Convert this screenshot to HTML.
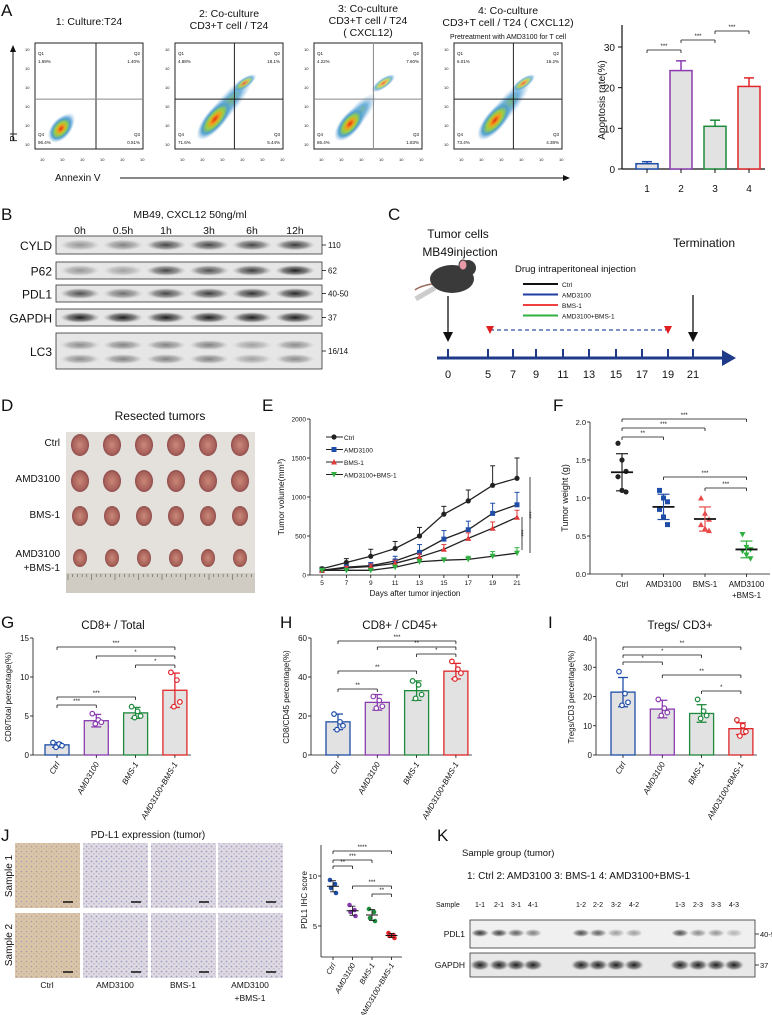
<!DOCTYPE html>
<html><head><meta charset="utf-8"><style>
body{margin:0;background:#fff}
svg{display:block;font-family:"Liberation Sans",sans-serif}
</style></head><body>
<svg id="s" width="772" height="1015" viewBox="0 0 772 1015" xmlns="http://www.w3.org/2000/svg">
<defs>
<radialGradient id="dens"><stop offset="0" stop-color="#e03010"/><stop offset="0.25" stop-color="#f0a020"/><stop offset="0.45" stop-color="#9bcf40"/><stop offset="0.7" stop-color="#50a0d0"/><stop offset="1" stop-color="#8ab8e0" stop-opacity="0"/></radialGradient>
<radialGradient id="dens2"><stop offset="0" stop-color="#60b040"/><stop offset="0.5" stop-color="#60a8d8"/><stop offset="1" stop-color="#a0c8e8" stop-opacity="0"/></radialGradient>
<radialGradient id="band"><stop offset="0" stop-color="#1a1a1a"/><stop offset="0.6" stop-color="#555" stop-opacity="0.7"/><stop offset="1" stop-color="#999" stop-opacity="0"/></radialGradient>
<radialGradient id="tum"><stop offset="0" stop-color="#c98878"/><stop offset="0.8" stop-color="#a8605a"/><stop offset="1" stop-color="#8a4a48"/></radialGradient>
<pattern id="ihcB" width="5" height="5" patternUnits="userSpaceOnUse"><rect width="5" height="5" fill="#e4e0ea"/><circle cx="1.5" cy="1.5" r="0.9" fill="#7a7ab8"/><circle cx="4" cy="3.8" r="0.7" fill="#9090c8"/></pattern>
<pattern id="ihcT" width="5" height="5" patternUnits="userSpaceOnUse"><rect width="5" height="5" fill="#dcc8ac"/><circle cx="1.5" cy="1.5" r="0.8" fill="#8a80b0"/><circle cx="4" cy="3.8" r="0.6" fill="#a090b0"/></pattern>
</defs>
<g id="root"></g>
</svg>
<script>
// ---- data ----
const flowTitles=[["1: Culture:T24"],["2: Co-culture","CD3+T cell / T24"],["3: Co-culture","CD3+T cell / T24","( CXCL12)"],["4: Co-culture","CD3+T cell / T24 ( CXCL12)"]];
const flowQ1=["1.69%","4.88%","4.22%","6.01%"];
const flowQ2=["1.40%","18.1%","7.60%","16.2%"];
const flowQ3=["0.51%","5.44%","1.83%","4.38%"];
const flowQ4=["96.4%","71.6%","86.4%","73.4%"];
const apopCats=["1","2","3","4"];
const apopVals=[1.3,24.2,10.5,20.3];
const apopErr=[0.5,2.4,1.5,2.1];
const groupColors=["#1f4ea8","#8a3cb0","#1e8a3c","#e0262a"];
const timeLabels=["0h","0.5h","1h","3h","6h","12h"];
const blotRows=["CYLD","P62","PDL1","GAPDH","LC3"];
const blotKDa=["110","62","40-50","37","16/14"];
const blotInt=[[0.4,0.5,0.8,0.8,0.8,0.85],[0.4,0.35,0.8,0.75,0.85,1],[0.75,0.6,0.8,0.85,0.9,0.95],[1,1,1,1,1,1],[0.45,0.5,0.5,0.5,0.35,0.45]];
const days=[5,7,9,11,13,15,17,19,21];
const volCtrl=[80,160,240,340,500,780,950,1150,1240];
const volCtrlErr=[20,50,90,90,110,100,140,250,260];
const volAMD=[60,100,120,180,290,460,580,790,900];
const volAMDErr=[20,30,40,60,100,110,110,130,160];
const volBMS=[60,90,110,150,230,330,470,600,740];
const volBMSErr=[10,20,30,40,40,60,70,80,90];
const volCombo=[60,60,60,100,170,190,200,240,280];
const volComboErr=[10,15,20,25,30,30,40,60,70];
const wCtrl=[1.72,1.5,1.35,1.28,1.1,1.08];
const wAMD=[1.1,1.0,0.95,0.85,0.75,0.65];
const wBMS=[1.0,0.8,0.72,0.65,0.6,0.57];
const wCombo=[0.52,0.35,0.32,0.3,0.25,0.2];
const grpLabels=["Ctrl","AMD3100","BMS-1","AMD3100+BMS-1"];
const gVals=[1.3,4.4,5.4,8.3];const gSd=[0.3,0.8,0.7,2.2];
const gPts=[[1.6,1.4,1.2,1.0],[5.3,4.5,4.2,4.0],[6.2,5.6,5.0,4.8],[10.6,9.6,6.8,6.2]];
const hVals=[17,27,33,43];const hSd=[4,4,5,4];
const hPts=[[21,17,15,13],[30,28,25,24],[38,36,31,29],[48,44,42,39]];
const iVals=[21.5,15.7,14.2,9];const iSd=[5,3,3,2];
const iPts=[[28.5,21,18,17],[19,16,14.5,13.5],[19,15,13.5,12.5],[12,10,8,6.5]];
const jPts=[[9.6,9.2,8.8,8.3],[7.1,6.6,6.4,6.0],[6.7,6.4,5.8,5.5],[4.3,4.1,4.0,3.8]];
const kSamples=["1-1","2-1","3-1","4-1","1-2","2-2","3-2","4-2","1-3","2-3","3-3","4-3"];
const kPDL1=[0.9,0.85,0.7,0.55,0.8,0.7,0.4,0.4,0.8,0.5,0.45,0.3];

// ---- helpers ----
const NS="http://www.w3.org/2000/svg";const root=document.getElementById('root');
function E(tag,at,parent,txt){const e=document.createElementNS(NS,tag);for(const k in at)e.setAttribute(k,at[k]);if(txt!==undefined)e.textContent=txt;(parent||root).appendChild(e);return e;}
function T(x,y,s,size,name,opt){opt=opt||{};const e=E('text',{x:x,y:y,'font-size':size,fill:opt.fill||'#111','text-anchor':opt.anchor||'start'},opt.parent,s);
if(opt.rot)e.setAttribute('transform',`rotate(${opt.rot} ${x} ${y})`);if(opt.it)e.setAttribute('font-style','italic');

return e;}
function L(x1,y1,x2,y2,c,w,p){return E('line',{x1,y1,x2,y2,stroke:c||'#111','stroke-width':w||1},p);}
function sig(x1,x2,y,s,p){L(x1,y,x2,y,'#111',0.8,p);L(x1,y,x1,y+3,'#111',0.8,p);L(x2,y,x2,y+3,'#111',0.8,p);T((x1+x2)/2,y-2,s,6,'significance-mark',{anchor:'middle',parent:p});}
function G(name){const g=E('g',{});return g;}
function panel(l,x,y){T(x,y,l,17,'panel-label-'+l.toLowerCase());}

// ---- Panel A ----
panel('A',1,16);
const fx=[35,175,314,454];
flowTitles.forEach((t,i)=>{const g=G('flow-plot-'+(i+1));const x=fx[i],y=43,w=108,h=106;
 const tyBase=[25,17,12,14][i];
 t.forEach((ln,j)=>T(x+w/2,tyBase+j*12,ln,10.5,'flow-title',{anchor:'middle',parent:g}));
 if(i==3)T(x+w/2,39,'Pretreatment with AMD3100  for T cell',7,'flow-subtitle',{anchor:'middle',parent:g});
 E('rect',{x,y,width:w,height:h,fill:'#fff',stroke:'#222','stroke-width':1},g);
 const vx=i==0?x+61:x+w*0.55;const hy=y+h*0.53;
 const sp=[0.2,1,0.6,0.9][i];
 const bx=x+[24,30,30,32][i],by=y+88;
 // diagonal spread
 const ex=bx+22*sp,ey=by-26*sp;
 E('ellipse',{cx:ex,cy:ey,rx:10+30*sp,ry:8+2*sp,fill:'url(#dens2)',transform:`rotate(-50 ${ex} ${ey})`,opacity:0.9},g);
 E('ellipse',{cx:bx+10*sp,cy:by-12*sp,rx:14+12*sp,ry:10,fill:'url(#dens)',transform:`rotate(-50 ${bx+10*sp} ${by-12*sp})`},g);
 if(sp>0.5)E('ellipse',{cx:vx+10,cy:hy-16,rx:14,ry:5,fill:'url(#dens)',transform:`rotate(-35 ${vx+10} ${hy-16})`,opacity:0.75},g);
 L(vx,y,vx,y+h,i==2?'#888':'#222',1,g);L(x,hy,x+w,hy,i%2==0?'#888':'#222',1,g);
 T(x+3,y+12,'Q1',4.5,'q-label',{parent:g});T(x+3,y+20,flowQ1[i],4.5,'q1-value',{parent:g});
 T(x+w-3,y+12,'Q2',4.5,'q-label',{parent:g,anchor:'end'});T(x+w-3,y+20,flowQ2[i],4.5,'q2-value',{parent:g,anchor:'end'});
 T(x+3,y+93,'Q4',4.5,'q-label',{parent:g});T(x+3,y+101,flowQ4[i],4.5,'q4-value',{parent:g});
 T(x+w-3,y+93,'Q3',4.5,'q-label',{parent:g,anchor:'end'});T(x+w-3,y+101,flowQ3[i],4.5,'q3-value',{parent:g,anchor:'end'});
 for(let k=0;k<6;k++){T(x+5+k*20,y+h+12,'10',4,'x-tick',{parent:g});T(x-10,y+8+k*19,'10',4,'y-tick',{parent:g});}
});
T(55,181,'Annexin V',10,'x-axis-title-annexin');L(120,178,566,178,'#111',1);E('path',{d:'M570 178 L563 175 L563 181Z',fill:'#111'});
T(17,142,'PI',10,'y-axis-title-pi',{rot:-90});L(13,140,13,50,'#111',1);E('path',{d:'M13 45 L10 52 L16 52Z',fill:'#111'});
// apoptosis bar chart
{const g=G('apoptosis-bar-chart');const ax=622,y0=169,y30=47;const ys=v=>y0-(v/30)*(y0-y30);const xs=i=>647+i*34;
 L(ax,y0,ax,25,'#111',1.2,g);L(ax,y0,765,y0,'#111',1.2,g);
 [0,10,20,30].forEach(v=>{L(ax-4,ys(v),ax,ys(v),'#111',1,g);T(ax-7,ys(v)+4,String(v),10,'y-tick',{anchor:'end',parent:g});});
 T(605,100,'Apoptosis rate(%)',10,'y-axis-title',{anchor:'middle',rot:-90,parent:g});
 apopCats.forEach((c,i)=>{const x=xs(i);const b=E('rect',{x:x-11,y:ys(apopVals[i]),width:22,height:y0-ys(apopVals[i]),fill:'#e2e2e2',stroke:groupColors[i],'stroke-width':1.5},g);
  
  
  const t=ys(apopVals[i]+apopErr[i]);L(x,ys(apopVals[i]),x,t,groupColors[i],1.5,g);L(x-5,t,x+5,t,groupColors[i],1.5,g);
  L(x,y0,x,y0+4,'#111',1,g);T(x,192,c,10,'x-tick',{anchor:'middle',parent:g});});
 sig(xs(0),xs(1),50,'***',g);sig(xs(1),xs(2),40,'***',g);sig(xs(2),xs(3),31,'***',g);}

// ---- Panel B ----
panel('B',1,220);
T(190,218,'MB49, CXCL12  50ng/ml',10.5,'blot-title',{anchor:'middle'});
timeLabels.forEach((t,i)=>T(80+i*43,234,t,10.5,'time-label',{anchor:'middle'}));
const rowY=[236,262,285,309,333],rowH=[18,17,17,17,36];
blotRows.forEach((r,j)=>{const g=G('blot-row-'+r.toLowerCase());
 E('rect',{x:56,y:rowY[j],width:266,height:rowH[j],fill:'#e6e6e6',stroke:'#333','stroke-width':0.8},g);
 timeLabels.forEach((t,i)=>{const cx=80+i*43;const a=blotInt[j][i];
  if(j==4){E('ellipse',{cx,cy:rowY[j]+12,rx:20,ry:5,fill:'url(#band)',opacity:a},g);E('ellipse',{cx,cy:rowY[j]+26,rx:20,ry:5,fill:'url(#band)',opacity:a},g);}
  else E('ellipse',{cx,cy:rowY[j]+rowH[j]/2,rx:20,ry:5.5,fill:'url(#band)',opacity:a},g);});
 T(52,rowY[j]+rowH[j]/2+5,r,12,'blot-label',{anchor:'end',parent:g});
 L(322,rowY[j]+rowH[j]/2,326,rowY[j]+rowH[j]/2,'#111',0.8,g);
 T(328,rowY[j]+rowH[j]/2+3,blotKDa[j],8,'kda-label',{parent:g});});

// ---- Panel C ----
panel('C',388,220);
T(458,238,'Tumor cells',12,'label-tumor-cells',{anchor:'middle'});T(460,256,'MB49injection',12,'label-injection',{anchor:'middle'});
T(704,247,'Termination',12,'label-termination',{anchor:'middle'});
{const g=G('mouse-icon');E('ellipse',{cx:452,cy:279,rx:22,ry:14,fill:'#3a3a3a'},g);E('circle',{cx:468,cy:268,r:8,fill:'#3a3a3a'},g);
 E('ellipse',{cx:463,cy:265,rx:4,ry:5,fill:'#e89aa8',stroke:'#3a3a3a'},g);E('path',{d:'M432 284 Q420 286 415 290',stroke:'#9a6a5a',fill:'none','stroke-width':1.5},g);
 E('rect',{x:414,y:291,width:22,height:5,fill:'#ccc',transform:'rotate(-30 425 293)'},g);}
T(515,272,'Drug intraperitoneal injection',9.5,'label-drug-injection');
[['Ctrl','#111'],['AMD3100','#1f3ea0'],['BMS-1','#f04040'],['AMD3100+BMS-1','#30b040']].forEach((d,i)=>{const y=284+i*10.5;L(523,y,558,y,d[1],2);T(562,y+3,d[0],6.5,'legend-'+d[0].toLowerCase());});
const tlDays=[0,5,7,9,11,13,15,17,19,21];const tlX=[448,488,513,536,563,589,616,642,668,693];
{const g=G('timeline');L(437,358,725,358,'#1f3a88',3,g);E('path',{d:'M736 358 L722 350 L722 366Z',fill:'#1f3a88'},g);
 tlDays.forEach((d,i)=>{L(tlX[i],358,tlX[i],349,'#1f3a88',2,g);T(tlX[i],378,String(d),11,'timeline-tick',{anchor:'middle',parent:g});});
 E('line',{x1:490,y1:330,x2:666,y2:330,stroke:'#3050a8','stroke-width':1.2,'stroke-dasharray':'4,3'},g);
 E('path',{d:'M486 326 L494 326 L490 334Z',fill:'#e02020'},g);E('path',{d:'M664 326 L672 326 L668 334Z',fill:'#e02020'},g);
 [[448,296],[693,295]].forEach(a=>{L(a[0],a[1],a[0],335,'#111',1.3,g);E('path',{d:`M${a[0]-5} 332 L${a[0]+5} 332 L${a[0]} 342Z`,fill:'#111'},g);});}

// ---- Panel D ----
panel('D',1,411);
T(160,420,'Resected tumors',12,'photo-title',{anchor:'middle'});
{const g=G('tumor-photo');E('rect',{x:66,y:432,width:189,height:161,fill:'#e4e0dc'},g);E('rect',{x:66,y:573,width:189,height:20,fill:'#d0ccc4'},g);
 for(let k=0;k<40;k++)L(68+k*4.7,574,68+k*4.7,k%5==0?580:577,'#444',0.5,g);
 const ry=[445,481,516,558],sz=[10,10,9,8];ry.forEach((y,r)=>{for(let c=0;c<6;c++)E('ellipse',{cx:80+c*32,cy:y,rx:sz[r]-1,ry:sz[r]+1,fill:'url(#tum)'},g);});}
[['Ctrl',446],['AMD3100',482],['BMS-1',518],['AMD3100',557],['+BMS-1',571]].forEach(d=>T(60,d[1],d[0],10,'row-label',{anchor:'end'}));

// ---- Panel E ----
panel('E',262,411);
{const g=G('tumor-volume-chart');const ax=310,y0=575,yT=419;const ys=v=>y0-v/2000*(y0-yT);const xs=d=>322+(d-5)/16*195;
 L(ax,y0,ax,yT,'#111',0.8,g);L(ax,y0,520,y0,'#111',0.8,g);
 [0,500,1000,1500,2000].forEach(v=>{L(ax-3,ys(v),ax,ys(v),'#111',0.8,g);T(ax-4,ys(v)+2.5,String(v),6.5,'y-tick',{anchor:'end',parent:g});});
 days.forEach(d=>{L(xs(d),y0,xs(d),y0+3,'#111',0.8,g);T(xs(d),585,String(d),6.5,'x-tick',{anchor:'middle',parent:g});});
 T(415,596,'Days after tumor injection',8,'x-axis-title',{anchor:'middle',parent:g});
 T(284,497,'Tumor volume(mm³)',8.5,'y-axis-title',{anchor:'middle',rot:-90,parent:g});
 const ser=[['ctrl',volCtrl,volCtrlErr,'#222','c'],['amd3100',volAMD,volAMDErr,'#1f4ea8','s'],['bms1',volBMS,volBMSErr,'#e03a3a','t'],['combo',volCombo,volComboErr,'#30b040','v']];
 function mk(x,y,c,t,p){if(t=='c')E('circle',{cx:x,cy:y,r:2.6,fill:c},p);else if(t=='s')E('rect',{x:x-2.5,y:y-2.5,width:5,height:5,fill:c},p);else if(t=='t')E('path',{d:`M${x-3} ${y+2.5}L${x+3} ${y+2.5}L${x} ${y-3}Z`,fill:c},p);else E('path',{d:`M${x-3} ${y-2.5}L${x+3} ${y-2.5}L${x} ${y+3}Z`,fill:c},p);}
 ser.forEach(s=>{const sg=E('g',{},g);
  E('polyline',{points:days.map((d,i)=>xs(d)+','+ys(s[1][i])).join(' '),fill:'none',stroke:'#222','stroke-width':1.3},sg);
  days.forEach((d,i)=>{const t=ys(s[1][i]+s[2][i]);L(xs(d),ys(s[1][i]),xs(d),t,s[3],1,sg);L(xs(d)-2.5,t,xs(d)+2.5,t,s[3],1,sg);mk(xs(d),ys(s[1][i]),s[3],s[4],sg);});});
 ser.forEach((s,i)=>{const y=437+i*12.5;L(326,y,343,y,'#222',1,g);mk(334,y,s[3],s[4],g);T(344,y+3,['Ctrl','AMD3100','BMS-1','AMD3100+BMS-1'][i],6.5,'legend-entry',{parent:g});});
 L(522,517,522,550,'#111',0.8,g);T(519,533,'***',6,'sig',{anchor:'middle',rot:90,parent:g});
 L(530,477,530,553,'#111',0.8,g);T(527,515,'***',6,'sig',{anchor:'middle',rot:90,parent:g});}

// ---- Panel F ----
panel('F',553,411);
{const g=G('tumor-weight-chart');const ax=590,y0=574,yT=422;const ys=v=>y0-v/2*(y0-yT);const xs=i=>622+i*41.5;
 L(ax,y0,ax,yT,'#111',0.8,g);L(ax,y0,770,y0,'#111',0.8,g);
 [0,0.5,1,1.5,2].forEach(v=>{L(ax-3,ys(v),ax,ys(v),'#111',0.8,g);T(ax-4,ys(v)+3,v.toFixed(1),7.5,'y-tick',{anchor:'end',parent:g});});
 T(568,498,'Tumor weight (g)',9,'y-axis-title',{anchor:'middle',rot:-90,parent:g});
 const cols=['#222','#1f4ea8','#e84a4a','#30b040'];
 [wCtrl,wAMD,wBMS,wCombo].forEach((arr,i)=>{const m=arr.reduce((a,b)=>a+b)/arr.length;const sd=Math.sqrt(arr.reduce((a,b)=>a+(b-m)*(b-m),0)/(arr.length-1));
  arr.forEach((v,k)=>{const x=xs(i)+((k%3)-1)*4;const y=ys(v);if(i==1)E('rect',{x:x-2.5,y:y-2.5,width:5,height:5,fill:cols[i]},g);else if(i==2)E('path',{d:`M${x-3} ${y+2.5}L${x+3} ${y+2.5}L${x} ${y-3}Z`,fill:cols[i]},g);else if(i==3)E('path',{d:`M${x-3} ${y-2.5}L${x+3} ${y-2.5}L${x} ${y+3}Z`,fill:cols[i]},g);else E('circle',{cx:x,cy:y,r:2.6,fill:cols[i]},g);});
  L(xs(i)-11,ys(m),xs(i)+11,ys(m),'#111',1.8,g);L(xs(i),ys(m-sd),xs(i),ys(m+sd),cols[i],1.2,g);L(xs(i)-6,ys(m+sd),xs(i)+6,ys(m+sd),cols[i],1.2,g);L(xs(i)-6,ys(m-sd),xs(i)+6,ys(m-sd),cols[i],1.2,g);
  L(xs(i),y0,xs(i),y0+3,'#111',0.8,g);});
 ['Ctrl','AMD3100','BMS-1','AMD3100'].forEach((c,i)=>T(xs(i),587,c,8,'x-tick',{anchor:'middle',parent:g}));T(xs(3),598,'+BMS-1',8,'x-tick',{anchor:'middle',parent:g});
 sig(xs(0),xs(3),419,'***',g);sig(xs(0),xs(2),428,'***',g);sig(xs(0),xs(1),437,'**',g);sig(xs(1),xs(3),477,'***',g);sig(xs(2),xs(3),488,'***',g);}

// ---- Panels G H I ----
function barPanel(name,lab,lx,title,tx,ax,maxV,ticks,xs0,vals,sd,pts,ylab,sigs){
 panel(lab,lx,628);T(tx,629,title,11.5,'chart-title-'+name,{anchor:'middle'});
 const g=G(name+'-bar-chart');const y0=755,yT=638;const ys=v=>y0-v/maxV*(y0-yT);const xs=i=>xs0+i*39.3;
 L(ax,y0,ax,yT,'#111',0.8,g);L(ax,y0,xs(3)+16,y0,'#111',0.8,g);
 ticks.forEach(v=>{L(ax-3,ys(v),ax,ys(v),'#111',0.8,g);T(ax-4,ys(v)+3,String(v),8,'y-tick',{anchor:'end',parent:g});});
 T(ax-22,697,ylab,8,'y-axis-title',{anchor:'middle',rot:-90,parent:g});
 vals.forEach((v,i)=>{const x=xs(i),c=groupColors[i];const b=E('rect',{x:x-12,y:ys(v),width:24,height:y0-ys(v),fill:'#e2e2e2',stroke:c,'stroke-width':1.3},g);
  
  
  L(x,ys(v-sd[i]),x,ys(v+sd[i]),c,1.3,g);L(x-5,ys(v+sd[i]),x+5,ys(v+sd[i]),c,1.3,g);L(x-5,ys(v-sd[i]),x+5,ys(v-sd[i]),c,1.3,g);
  pts[i].forEach((p,k)=>E('circle',{cx:x+[-4,2,5,-1][k],cy:ys(p),r:2.3,fill:'#fff',stroke:c,'stroke-width':1.2},g));
  L(x,y0,x,y0+3,'#111',0.8,g);T(x+3,764,grpLabels[i],8,'x-tick',{anchor:'end',rot:-60,it:1,parent:g});});
 sigs.forEach(s=>sig(xs(s[0]),xs(s[1]),s[2],s[3],g));}
barPanel('g','G',1,'CD8+ / Total',113,33,15,[0,5,10,15],57,gVals,gSd,gPts,'CD8/Total percentage(%)',[[0,3,647,'***'],[1,3,656,'*'],[2,3,665,'*'],[0,2,697,'***'],[0,1,705,'***']]);
barPanel('h','H',280,'CD8+ / CD45+',400,311,60,[0,20,40,60],338,hVals,hSd,hPts,'CD8/CD45 percentage(%)',[[0,3,641,'***'],[1,3,647,'**'],[2,3,654,'*'],[0,2,671,'**'],[0,1,689,'**']]);
barPanel('i','I',548,'Tregs/ CD3+',680,596,40,[0,10,20,30,40],623,iVals,iSd,iPts,'Tregs/CD3 percentage(%)',[[0,3,647,'**'],[0,2,655,'*'],[0,1,662,'*'],[1,3,675,'**'],[2,3,691,'*']]);

// ---- Panel J ----
panel('J',1,841);
T(148,838,'PD-L1 expression (tumor)',10,'ihc-title',{anchor:'middle'});
{const g=G('ihc-images');const cx=[15,83,151,218];const ry=[843,913];
 ry.forEach((y,r)=>cx.forEach((x,c)=>{E('rect',{x,y,width:65,height:65,fill:c==0?'url(#ihcT)':'url(#ihcB)'},g);E('rect',{x,y,width:65,height:65,fill:c==0?'#d8c0a0':'#d8d0d8',opacity:0.4},g);L(x+48,y+59,x+58,y+59,'#111',1.5,g);}));
 T(12,876,'Sample 1',10,'row-label',{anchor:'middle',rot:-90,parent:g});T(12,945,'Sample 2',10,'row-label',{anchor:'middle',rot:-90,parent:g});
 ['Ctrl','AMD3100','BMS-1','AMD3100'].forEach((t,i)=>T(cx[i]+32,988,t,8.5,'col-label',{anchor:'middle',parent:g}));T(cx[3]+32,1001,'+BMS-1',8.5,'col-label',{anchor:'middle',parent:g});}
{const g=G('pdl1-ihc-score-chart');const ax=321,yb=957;const ys=v=>976-v*10;const xs=i=>333+i*19.5;
 L(ax,yb,ax,845,'#111',0.8,g);L(ax,yb,402,yb,'#111',0.8,g);
 [5,10].forEach(v=>{L(ax-3,ys(v),ax,ys(v),'#111',0.8,g);T(ax-4,ys(v)+3,String(v),7.5,'y-tick',{anchor:'end',parent:g});});
 T(307,900,'PDL1 IHC score',8,'y-axis-title',{anchor:'middle',rot:-90,parent:g});
 jPts.forEach((arr,i)=>{const m=arr.reduce((a,b)=>a+b)/4;const sd=Math.sqrt(arr.reduce((a,b)=>a+(b-m)*(b-m),0)/3);
  arr.forEach((v,k)=>E('circle',{cx:xs(i)+[-3,2,-2,3][k],cy:ys(v),r:2.3,fill:groupColors[i]},g));
  L(xs(i)-6,ys(m),xs(i)+6,ys(m),'#111',1,g);L(xs(i),ys(m-sd),xs(i),ys(m+sd),'#111',0.8,g);L(xs(i)-3,ys(m+sd),xs(i)+3,ys(m+sd),'#111',0.8,g);L(xs(i)-3,ys(m-sd),xs(i)+3,ys(m-sd),'#111',0.8,g);
  L(xs(i),yb,xs(i),yb+3,'#111',0.8,g);T(xs(i)+3,965,grpLabels[i],7.5,'x-tick',{anchor:'end',rot:-60,it:1,parent:g});});
 sig(xs(0),xs(3),851,'****',g);sig(xs(0),xs(2),860,'***',g);sig(xs(0),xs(1),866,'**',g);sig(xs(1),xs(3),886,'***',g);sig(xs(2),xs(3),894,'**',g);}

// ---- Panel K ----
panel('K',437,841);
T(462,856,'Sample group (tumor)',9.5,'k-subtitle');
T(467,879,'1: Ctrl    2: AMD3100  3: BMS-1   4: AMD3100+BMS-1',10,'k-group-key');
const kX=[480,499,516,533,581,598,616,634,680,698,716,734];
T(436,907,'Sample',7,'sample-label');
kSamples.forEach((s,i)=>T(kX[i],907,s,7,'sample-id',{anchor:'middle'}));
{const g=G('k-blot-pdl1');E('rect',{x:470,y:920,width:285,height:28,fill:'#f0f0f0',stroke:'#333','stroke-width':0.8},g);
 kSamples.forEach((s,i)=>E('ellipse',{cx:kX[i],cy:933,rx:9,ry:4,fill:'url(#band)',opacity:kPDL1[i]},g));
 T(465,937,'PDL1',8.5,'blot-label',{anchor:'end',parent:g});L(755,934,759,934,'#111',0.8,g);T(760,937,'40-50',7.5,'kda-label',{parent:g});}
{const g=G('k-blot-gapdh');E('rect',{x:470,y:953,width:285,height:24,fill:'#e8e8e8',stroke:'#333','stroke-width':0.8},g);
 kSamples.forEach((s,i)=>E('ellipse',{cx:kX[i],cy:965,rx:10,ry:5.5,fill:'url(#band)'},g));
 T(465,968,'GAPDH',8.5,'blot-label',{anchor:'end',parent:g});L(755,965,759,965,'#111',0.8,g);T(760,968,'37',7.5,'kda-label',{parent:g});}
</script>
</body></html>
